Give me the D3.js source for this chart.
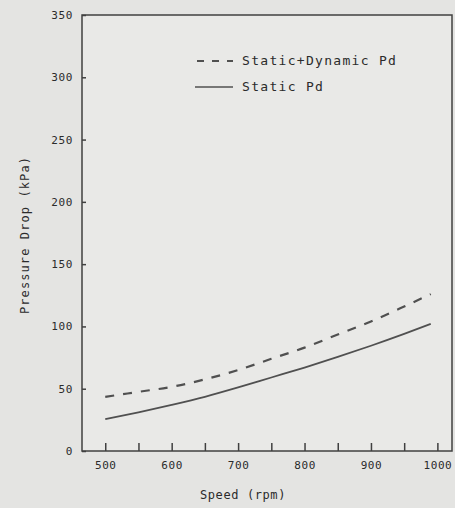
<!DOCTYPE html>
<html>
<head>
<meta charset="utf-8">
<script src="https://cdn.jsdelivr.net/npm/d3@7"></script>
<style>
  html, body { margin: 0; padding: 0; background: #e4e4e2; }
  svg { display: block; }
  text { font-family: "DejaVu Sans Mono", "Liberation Mono", monospace; fill: #2b2b2b; }
</style>
</head>
<body>
<script>
// Pressure drop versus pump speed
const speeds        = [500, 550, 600, 650, 700, 750, 800, 850, 900, 950, 990];
const staticPd      = [25.5, 31, 37, 43.5, 51, 59, 67, 75.5, 84.5, 94, 102];
const staticDynPd   = [43.5, 47.5, 51.5, 57.5, 65, 74, 83, 93.5, 104, 116, 126];
const xTickValues   = [500, 550, 600, 650, 700, 750, 800, 850, 900, 950, 1000];
const xTickLabels   = [500, 600, 700, 800, 900, 1000];
const yTickValues   = [0, 50, 100, 150, 200, 250, 300, 350];
const seriesNames   = ["Static+Dynamic Pd", "Static Pd"];

const W = 455, H = 508;
const plot = { left: 82, right: 452, top: 15, bottom: 451 };

const svg = d3.select("body").append("svg").attr("width", W).attr("height", H);

svg.append("rect").attr("x", plot.left).attr("y", plot.top)
  .attr("width", plot.right - plot.left).attr("height", plot.bottom - plot.top)
  .attr("fill", "#e9e9e7");

const x = d3.scaleLinear().domain([465, 1022]).range([plot.left, plot.right]);
const y = d3.scaleLinear().domain([0, 350]).range([plot.bottom, plot.top]);

const ink = "#404040";

// frame
svg.append("rect").attr("x", plot.left).attr("y", plot.top)
  .attr("width", plot.right - plot.left).attr("height", plot.bottom - plot.top)
  .attr("fill", "none").attr("stroke", ink).attr("stroke-width", 1.5);

// x axis, ticks pointing into the plot
const xAxis = d3.axisBottom(x)
  .tickValues(xTickValues)
  .tickSizeInner(-8).tickSizeOuter(0).tickPadding(10)
  .tickFormat(d => xTickLabels.includes(d) ? d : "");
const gx = svg.append("g").attr("transform", `translate(0,${plot.bottom})`).call(xAxis);
gx.select(".domain").remove();
gx.selectAll(".tick line").attr("stroke", ink).attr("stroke-width", 1.5);
gx.selectAll(".tick text").style("font-size", "11px").style("letter-spacing", "0.6px")
  .attr("fill", "#2b2b2b");

// y axis
const yAxis = d3.axisLeft(y)
  .tickValues(yTickValues)
  .tickSizeInner(-4).tickSizeOuter(0).tickPadding(9);
const gy = svg.append("g").attr("transform", `translate(${plot.left},0)`).call(yAxis);
gy.select(".domain").remove();
gy.selectAll(".tick line").attr("stroke", ink).attr("stroke-width", 1.5);
gy.selectAll(".tick text").style("font-size", "11px").style("letter-spacing", "0.6px")
  .attr("fill", "#2b2b2b");

// axis titles
svg.append("text").attr("x", 243).attr("y", 499).attr("text-anchor", "middle")
  .style("font-size", "12px").style("letter-spacing", "0.6px").text("Speed (rpm)");
svg.append("text").attr("transform", "translate(29,235) rotate(-90)")
  .attr("text-anchor", "middle")
  .style("font-size", "12px").style("letter-spacing", "1.1px").text("Pressure Drop (kPa)");

// curves
const line = d3.line().x(d => x(d[0])).y(d => y(d[1])).curve(d3.curveMonotoneX);
const dynData = speeds.map((s, i) => [s, staticDynPd[i]]);
const statData = speeds.map((s, i) => [s, staticPd[i]]);

svg.append("path").datum(dynData).attr("d", line)
  .attr("fill", "none").attr("stroke", "#505050").attr("stroke-width", 2.2)
  .attr("stroke-dasharray", "9,9");
svg.append("path").datum(statData).attr("d", line)
  .attr("fill", "none").attr("stroke", "#505050").attr("stroke-width", 1.8);

// legend
const legend = svg.append("g");
const legY = [61, 87];
legend.append("line").attr("x1", 197).attr("x2", 233).attr("y1", legY[0]).attr("y2", legY[0])
  .attr("stroke", "#505050").attr("stroke-width", 1.8).attr("stroke-dasharray", "7,8");
legend.append("line").attr("x1", 195).attr("x2", 233).attr("y1", legY[1]).attr("y2", legY[1])
  .attr("stroke", "#505050").attr("stroke-width", 1.6);
seriesNames.forEach((n, i) => {
  legend.append("text").attr("x", 242).attr("y", legY[i] + 4)
    .style("font-size", "13px").style("letter-spacing", "1.3px").text(n);
});
</script>
</body>
</html>
